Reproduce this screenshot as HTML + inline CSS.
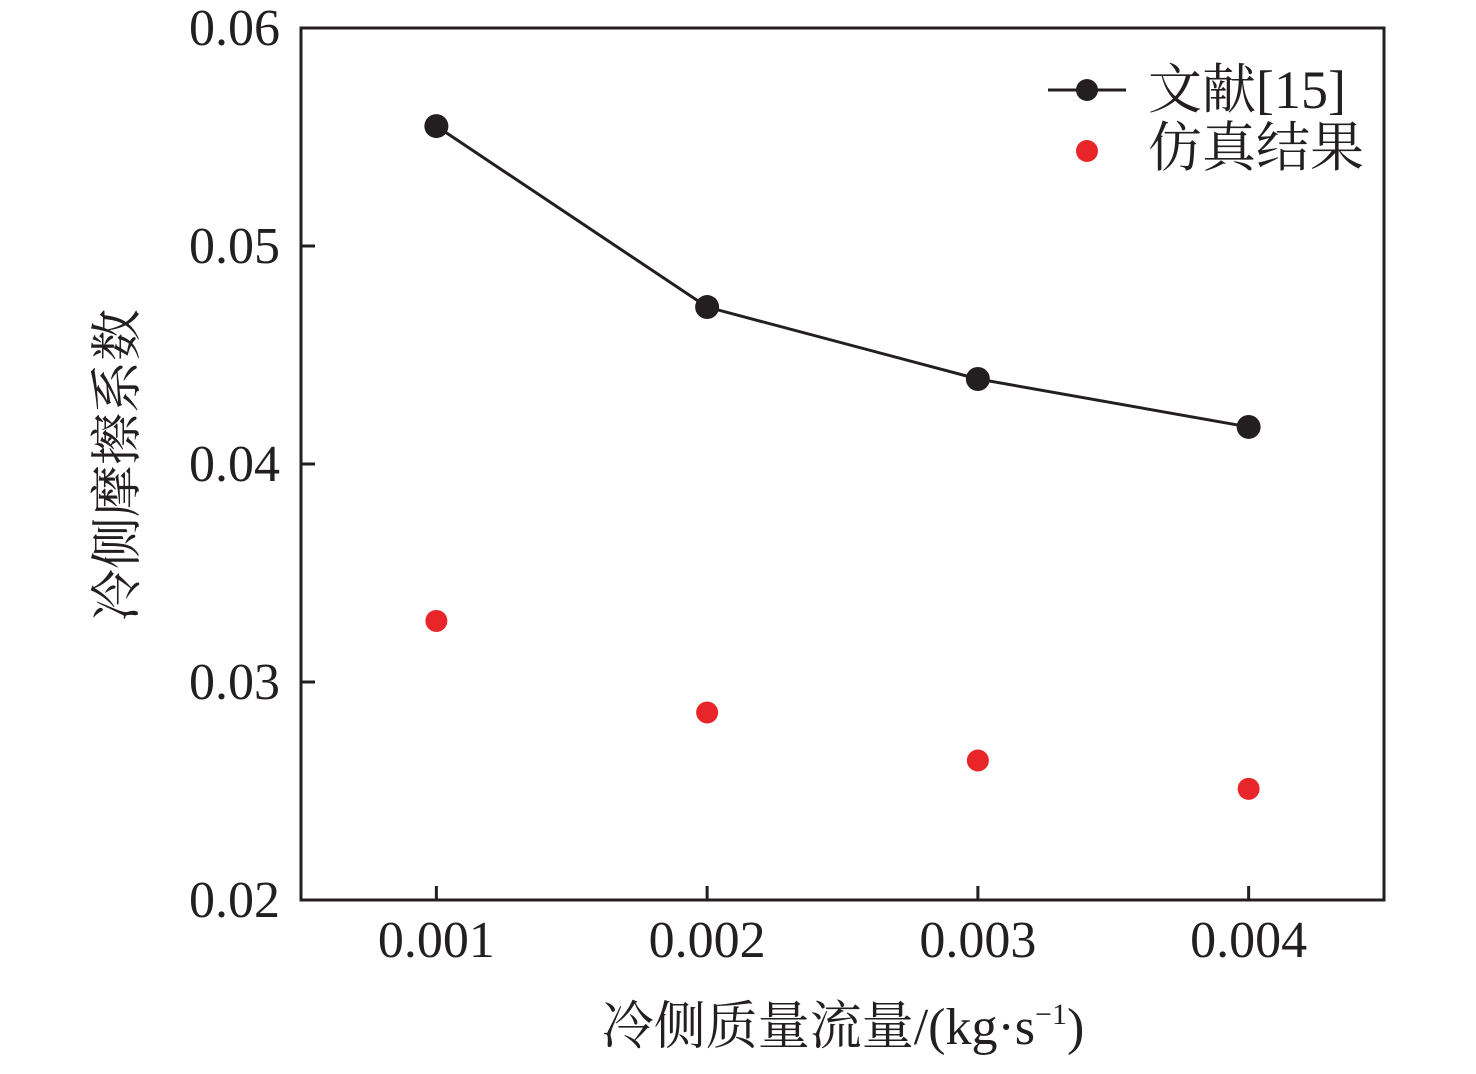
<!DOCTYPE html>
<html><head><meta charset="utf-8"><style>
body{margin:0;background:#fff}
svg text{font-family:"Liberation Serif","Noto Serif CJK SC",serif;fill:#231f20}
</style></head><body>
<svg id="c" width="1476" height="1069" viewBox="0 0 1476 1069" xmlns="http://www.w3.org/2000/svg">
<rect x="301" y="28" width="1083" height="872" fill="none" stroke="#231f20" stroke-width="3"/>
<g id="ax"></g>
<g id="marks"></g>
<text x="843" y="1044" font-size="52" text-anchor="middle">冷侧质量流量/(kg·s<tspan font-size="30" dy="-20">−1</tspan><tspan dy="20">)</tspan></text>
<text transform="translate(135,465) rotate(-90)" font-size="52" text-anchor="middle">冷侧摩擦系数</text>
<g>
<line x1="1048" y1="90" x2="1126" y2="90" stroke="#231f20" stroke-width="3"/>
<circle cx="1087" cy="90" r="11" fill="#231f20"/>
<text x="1148" y="108" font-size="54">文献[15]</text>
<circle cx="1087" cy="151" r="11" fill="#e8262a"/>
<text x="1148" y="166" font-size="54">仿真结果</text>
</g>
</svg>
<script>
const categories=[0.001,0.002,0.003,0.004];
const refValues=[0.0555,0.0472,0.0439,0.0417];
const simValues=[0.0328,0.0286,0.0264,0.0251];
const yTicks=[0.02,0.03,0.04,0.05,0.06];
const yTickLabels=["0.02","0.03","0.04","0.05","0.06"];
const xTickLabels=["0.001","0.002","0.003","0.004"];
const NS="http://www.w3.org/2000/svg";
const X=v=>301+(v-0.0005)/0.004*1083;
const Y=v=>900-(v-0.02)/0.04*872;
function mk(t,a,p){const e=document.createElementNS(NS,t);for(const k in a)e.setAttribute(k,a[k]);p.appendChild(e);return e;}
const ax=document.getElementById('ax'),mg=document.getElementById('marks');
yTicks.forEach((v,i)=>{
 const l=mk('line',{x1:301,x2:315,y1:Y(v),y2:Y(v),stroke:'#231f20','stroke-width':3},ax);
 
 
 const t=mk('text',{x:280,y:Y(v)+17,'font-size':52,'text-anchor':'end'},ax);t.textContent=yTickLabels[i];
 
 
});
categories.forEach((v,i)=>{
 const l=mk('line',{x1:X(v),x2:X(v),y1:900,y2:886,stroke:'#231f20','stroke-width':3},ax);
 
 
 const t=mk('text',{x:X(v),y:957,'font-size':52,'text-anchor':'middle'},ax);t.textContent=xTickLabels[i];
 
 
});
const pl=mk('polyline',{points:categories.map((c,i)=>X(c)+','+Y(refValues[i])).join(' '),fill:'none',stroke:'#231f20','stroke-width':3},mg);


categories.forEach((c,i)=>{
 const p=mk('circle',{cx:X(c),cy:Y(refValues[i]),r:12,fill:'#231f20'},mg);
 
 
 const q=mk('circle',{cx:X(c),cy:Y(simValues[i]),r:11,fill:'#e8262a'},mg);
 
 
});
</script>
</body></html>
